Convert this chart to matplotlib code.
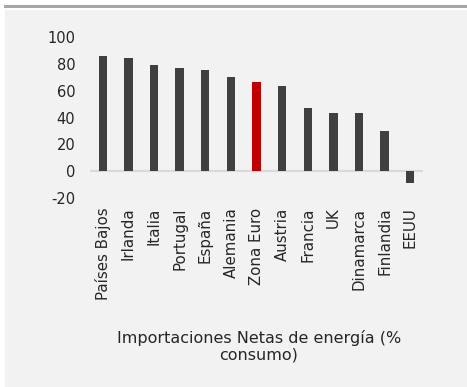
import matplotlib
matplotlib.use("Agg")
import matplotlib.pyplot as plt
from matplotlib.patches import Rectangle
from matplotlib.lines import Line2D

categories = ["Países Bajos", "Irlanda", "Italia", "Portugal", "España", "Alemania",
              "Zona Euro", "Austria", "Francia", "UK", "Dinamarca", "Finlandia", "EEUU"]
values = [86, 84.5, 79, 77, 75.5, 70, 66.5, 63.5, 47, 43.5, 43.5, 30, -9]
highlight = "Zona Euro"
yticks = [-20, 0, 20, 40, 60, 80, 100]
title = "Importaciones Netas de energía (%\nconsumo)"

plt.rcParams['font.family'] = ['DejaVu Sans']

W, H = 467, 387
fig = plt.figure(figsize=(W / 100, H / 100), dpi=100)
fig.patch.set_facecolor("white")

# panel background and top rule
fig.add_artist(Rectangle((5 / W, 0), 462 / W, 1 - 10 / H, transform=fig.transFigure,
                         facecolor="#f2f2f2", edgecolor="none", zorder=0))
fig.add_artist(Line2D([5 / W, 1], [1 - 6 / H, 1 - 6 / H], transform=fig.transFigure,
                      color="#a6a6a6", lw=2.2, zorder=1))

ax = fig.add_axes([90 / W, 1 - 198 / H, 333 / W, 161 / H])
ax.set_facecolor("none")

colors = ["#c00000" if c == highlight else "#404040" for c in categories]
x = range(len(categories))
ax.bar(x, values, width=0.33, color=colors, zorder=3)
ax.axhline(0, color="#d9d9d9", lw=1.5, zorder=2)

ax.set_xlim(-0.5, len(categories) - 0.5)
ax.set_ylim(-20, 100)
ax.set_yticks(yticks)
ax.set_yticklabels([str(t) for t in yticks], fontsize=10.5, color="#262626")
ax.set_xticks(list(x))
ax.set_xticklabels(categories, rotation=90, fontsize=10.8, color="#262626", va="top", ha="center")
ax.tick_params(axis="both", length=0)
ax.tick_params(axis="y", pad=10.5)
ax.tick_params(axis="x", pad=7)
for s in ax.spines.values():
    s.set_visible(False)

fig.text(259 / W, 1 - 346 / H, title, ha="center", va="center", fontsize=11.5,
         color="#262626", linespacing=1.15)

fig.savefig("out.png", dpi=100, facecolor=fig.get_facecolor())
